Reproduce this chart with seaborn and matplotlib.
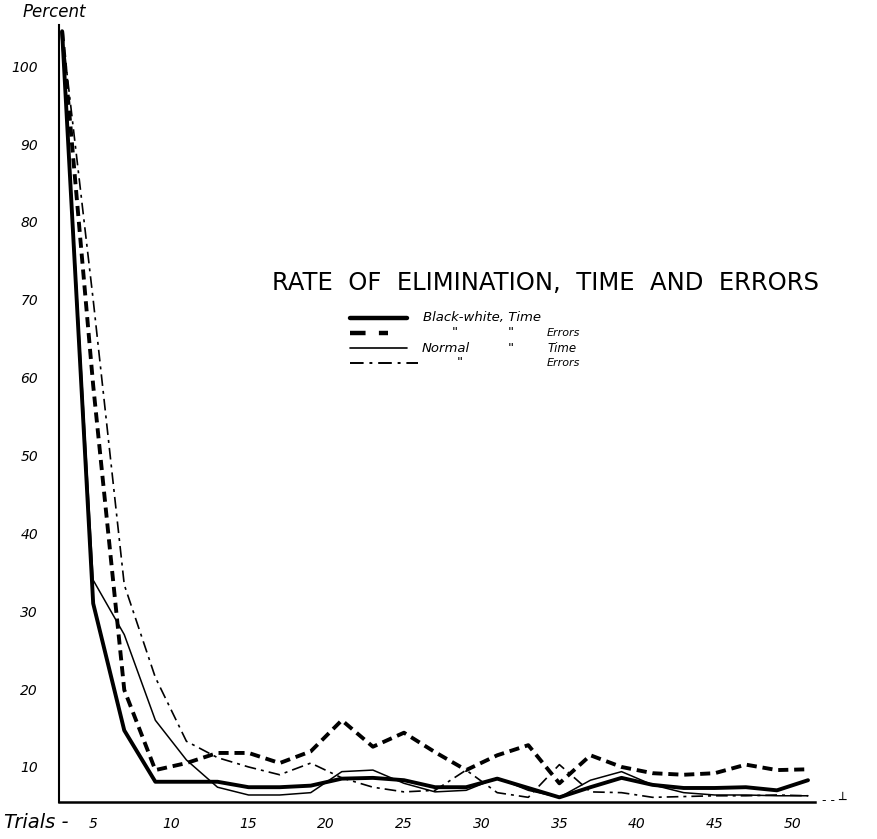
import numpy as np
import pandas as pd
import matplotlib
matplotlib.use('agg')
import matplotlib.pyplot as plt
from matplotlib.lines import Line2D
import seaborn as sns

# trials are plotted in 2-trial steps
trials = list(range(3, 52, 2))

bw_time = [104.5, 31, 14.7, 8.1, 8.1, 8.1, 7.4, 7.4, 7.6, 8.5, 8.6, 8.3, 7.4,
           7.4, 8.5, 7.3, 6.1, 7.4, 8.6, 7.7, 7.3, 7.3, 7.4, 7.0, 8.3]
bw_errors = [104.5, 59, 19.9, 9.6, 10.5, 11.8, 11.8, 10.5, 12.0, 16.0, 12.6, 14.4, 11.9,
             9.6, 11.5, 12.8, 7.9, 11.5, 10.0, 9.2, 9.0, 9.2, 10.3, 9.6, 9.7]
normal_time = [104.5, 34, 27, 16, 10.9, 7.4, 6.4, 6.4, 6.7, 9.4, 9.6, 7.9, 6.8,
               7.0, 8.6, 7.0, 6.1, 8.3, 9.4, 7.7, 6.7, 6.4, 6.4, 6.3, 6.3]
normal_errors = [104.5, 70, 33.4, 21.5, 13.3, 11.2, 10.0, 9.0, 10.5, 8.6, 7.4, 6.8, 7.0,
                 9.6, 6.7, 6.1, 10.3, 6.8, 6.7, 6.1, 6.2, 6.3, 6.3, 6.4, 6.3]

series_names = ['Black-white, Time', 'Black-white, Errors', 'Normal, Time', 'Normal, Errors']
y_ticks = [10, 20, 30, 40, 50, 60, 70, 80, 90, 100]
x_ticks = [5, 10, 15, 20, 25, 30, 35, 40, 45, 50]

df = pd.DataFrame({
    'trial': trials * 4,
    'percent': bw_time + bw_errors + normal_time + normal_errors,
    'series': sum([[s] * len(trials) for s in series_names], []),
})

widths = {series_names[0]: 2.8, series_names[1]: 2.8, series_names[2]: 1.1, series_names[3]: 1.2}
dash_map = {series_names[0]: '', series_names[1]: (2.6, 1.5),
            series_names[2]: '', series_names[3]: (7, 3, 1.8, 3)}

sns.set_style('white')
plt.rcParams['font.family'] = ['DejaVu Sans']
plt.rcParams['text.color'] = 'black'
plt.rcParams['xtick.color'] = 'black'
plt.rcParams['ytick.color'] = 'black'

W, H = 877, 839
fig = plt.figure(figsize=(W / 100, H / 100), dpi=100)
ax = fig.add_axes([59 / W, 37 / H, 756 / W, 777 / H])

sns.lineplot(data=df, x='trial', y='percent', style='series', size='series',
             sizes=widths, dashes=dash_map, color='black', legend=False,
             estimator=None, sort=False, ax=ax)

ax.set_xlim(2.8, 51.45)
ax.set_ylim(5.5, 105.3)
ax.set_yticks(y_ticks)
ax.set_yticklabels([str(v) for v in y_ticks], fontsize=10, style='italic')
ax.set_xticks(x_ticks)
ax.set_xticklabels([str(v) for v in x_ticks], fontsize=10, style='italic')
ax.tick_params(length=0, pad=11)
ax.tick_params(axis='y', pad=15)
ax.set_xlabel('')
ax.set_ylabel('')
for side in ['top', 'right']:
    ax.spines[side].set_visible(False)
ax.spines['left'].set_linewidth(1.5)
ax.spines['bottom'].set_linewidth(1.8)
ax.spines['left'].set_color('black')
ax.spines['bottom'].set_color('black')

def fx(x):
    return x / W

def fy(y):
    return 1 - y / H

fig.text(fx(23), fy(12), 'Percent', fontsize=12, style='italic', va='center')
fig.text(fx(68), fy(822), 'Trials -', fontsize=14, style='italic', va='center', ha='right')
fig.text(fx(822), fy(801), '- - \u2534', fontsize=9, va='center')

fig.text(fx(272), fy(283), 'RATE  OF  ELIMINATION,  TIME  AND  ERRORS', fontsize=17.5, va='center')

# hand-made key
rows = [318, 333, 348, 363]
fig.add_artist(Line2D([fx(350), fx(407)], [fy(rows[0])] * 2, color='black', lw=3.2, transform=fig.transFigure))
fig.add_artist(Line2D([fx(350), fx(388)], [fy(rows[1])] * 2, color='black', lw=3.2,
                      dashes=(3.5, 3), transform=fig.transFigure))
fig.add_artist(Line2D([fx(350), fx(407)], [fy(rows[2])] * 2, color='black', lw=1.2, transform=fig.transFigure))
fig.add_artist(Line2D([fx(350), fx(418)], [fy(rows[3])] * 2, color='black', lw=1.4,
                      dashes=(7, 3, 1.5, 3), transform=fig.transFigure))

key_style = dict(fontsize=9.5, style='italic', va='center')
fig.text(fx(423), fy(rows[0]), 'Black-white, Time', **key_style)
fig.text(fx(452), fy(rows[1]), '"', **key_style)
fig.text(fx(508), fy(rows[1]), '"', **key_style)
fig.text(fx(547), fy(rows[1]), 'Errors', fontsize=8, style='italic', va='center')
fig.text(fx(422), fy(rows[2]), 'Normal', **key_style)
fig.text(fx(508), fy(rows[2]), '"', **key_style)
fig.text(fx(547), fy(rows[2]), 'Time', fontsize=8.5, style='italic', va='center')
fig.text(fx(457), fy(rows[3]), '"', **key_style)
fig.text(fx(547), fy(rows[3]), 'Errors', fontsize=8, style='italic', va='center')

fig.savefig('out.png', dpi=100)
